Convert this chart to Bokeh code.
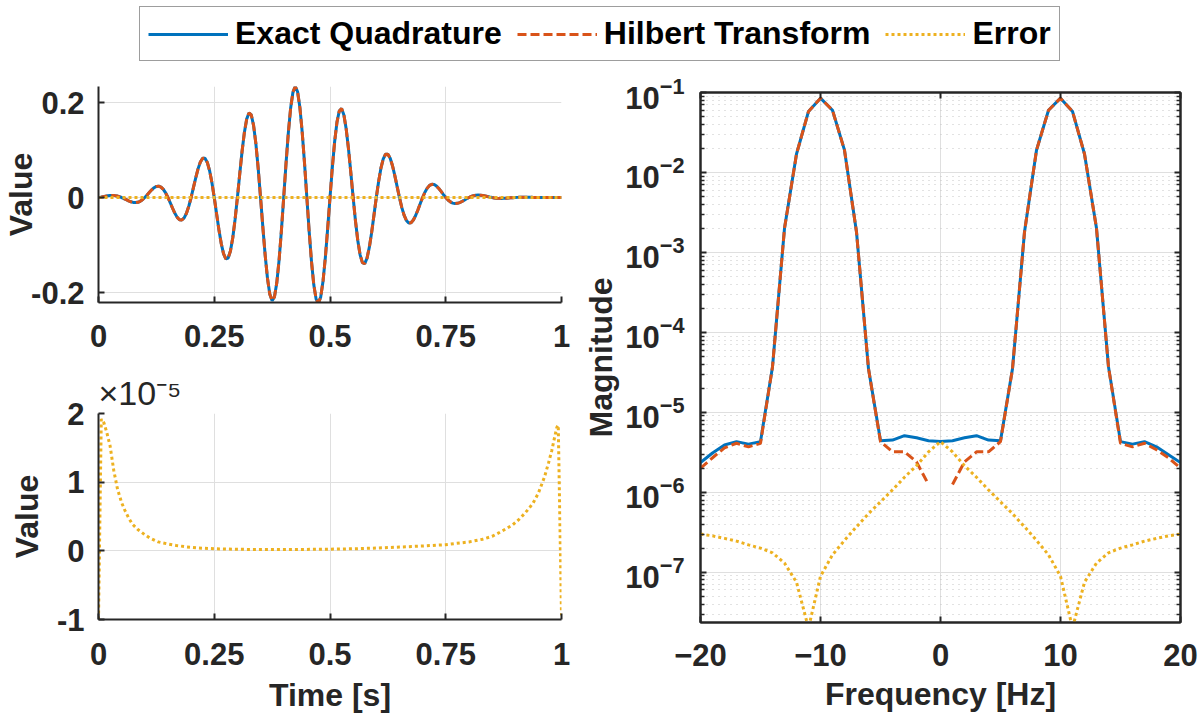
from bokeh.plotting import figure
from bokeh.models import (Range1d, FixedTicker, LinearAxis, LogAxis, Legend,
                          LegendItem, CustomJSTickFormatter)
from bokeh.layouts import column, row
from bokeh.embed import file_html
from bokeh.resources import INLINE

# ---------------- data ----------------
# time-domain samples, every 5 ms
time_s = [round(0.005 * k, 3) for k in range(201)]
exact_quadrature = [
    0, 0.0008, 0.0018, 0.0027, 0.0035, 0.0040, 0.0042, 0.0040, 0.0032, 0.0018,
    0, -0.0022, -0.0046, -0.0070, -0.0090, -0.0103, -0.0107, -0.0100, -0.0079, -0.0045,
    0, 0.0053, 0.0109, 0.0162, 0.0206, 0.0234, 0.0240, 0.0220, 0.0172, 0.0097,
    0, -0.0111, -0.0226, -0.0333, -0.0418, -0.0468, -0.0474, -0.0428, -0.0331, -0.0184,
    0, 0.0207, 0.0415, 0.0603, 0.0747, 0.0827, 0.0827, 0.0739, 0.0563, 0.0310,
    0, -0.0339, -0.0673, -0.0965, -0.1181, -0.1291, -0.1275, -0.1125, -0.0847, -0.0461,
    0, 0.0491, 0.0963, 0.1365, 0.1650, 0.1781, 0.1738, 0.1514, 0.1126, 0.0605,
    0, -0.0629, -0.1218, -0.1705, -0.2036, -0.2171, -0.2092, -0.1801, -0.1322, -0.0702,
    0, 0.0712, 0.1362, 0.1883, 0.2220, 0.2339, 0.2226, 0.1892, 0.1372, 0.0719,
    0, -0.0712, -0.1345, -0.1837, -0.2139, -0.2226, -0.2092, -0.1756, -0.1258, -0.0651,
    0, 0.0629, 0.1174, 0.1583, 0.1821, 0.1872, 0.1738, 0.1441, 0.1019, 0.0521,
    0, -0.0491, -0.0905, -0.1206, -0.1370, -0.1391, -0.1275, -0.1045, -0.0730, -0.0369,
    0, 0.0339, 0.0617, 0.0812, 0.0911, 0.0913, 0.0827, 0.0669, 0.0462, 0.0230,
    0, -0.0207, -0.0371, -0.0483, -0.0535, -0.0530, -0.0474, -0.0379, -0.0258, -0.0127,
    0, 0.0111, 0.0198, 0.0254, 0.0278, 0.0272, 0.0240, 0.0189, 0.0128, 0.0062,
    0, -0.0053, -0.0093, -0.0118, -0.0127, -0.0123, -0.0107, -0.0084, -0.0056, -0.0027,
    0, 0.0022, 0.0039, 0.0048, 0.0052, 0.0049, 0.0042, 0.0033, 0.0022, 0.0010,
    0, -0.0008, -0.0014, -0.0018, -0.0019, -0.0017, -0.0015, -0.0011, -0.0007, -0.0003,
    0, 0.0003, 0.0005, 0.0006, 0.0006, 0.0006, 0.0005, 0.0004, 0.0002, 0.0001,
    0, -0.0001, -0.0001, -0.0002, -0.0002, -0.0002, -0.0001, -0.0001, -0.0001, 0,
    0,
]
# at this scale the Hilbert-transform result is indistinguishable from the exact one
hilbert_quadrature = exact_quadrature

# time-domain error, in units of 1e-5
error_time_s = [0.0, 0.006, 0.012, 0.018, 0.025, 0.033, 0.041, 0.05, 0.057, 0.065,
                0.073, 0.085, 0.097, 0.11, 0.129, 0.15, 0.168, 0.19, 0.216, 0.25,
                0.3, 0.35, 0.4, 0.45, 0.5, 0.55, 0.6, 0.65, 0.7, 0.75,
                0.8, 0.83, 0.85, 0.867, 0.88, 0.895, 0.907, 0.92, 0.93, 0.939,
                0.95, 0.963, 0.972, 0.979, 0.985, 0.99, 0.993, 1.0]
error_e5 = [-1.0, 1.92, 1.86, 1.72, 1.53, 1.17, 0.90, 0.70, 0.59, 0.48,
            0.39, 0.31, 0.25, 0.19, 0.13, 0.10, 0.078, 0.058, 0.042, 0.03,
            0.022, 0.02, 0.02, 0.021, 0.024, 0.03, 0.04, 0.055, 0.07, 0.09,
            0.13, 0.17, 0.21, 0.27, 0.32, 0.38, 0.45, 0.54, 0.62, 0.70,
            0.84, 1.07, 1.28, 1.46, 1.65, 1.8, 1.83, -0.94]
error_scale_label = "\u00d710\u207b\u2075"

# spectrum magnitudes at -20..20 Hz
freq_hz = list(range(-20, 21))
exact_mag = [2.35e-6, 3.1e-6, 3.9e-6, 4.3e-6, 4.0e-6, 4.3e-6, 3.7e-5, 2.0e-3, 1.7e-2, 5.8e-2,
             8.5e-2, 6.0e-2, 1.9e-2, 1.8e-3, 3.5e-5, 4.4e-6, 4.5e-6, 5.1e-6, 4.8e-6, 4.4e-6,
             4.3e-6,
             4.4e-6, 4.8e-6, 5.1e-6, 4.5e-6, 4.4e-6, 3.5e-5, 1.8e-3, 1.9e-2, 6.0e-2, 8.5e-2,
             5.8e-2, 1.7e-2, 2.0e-3, 3.7e-5, 4.3e-6, 4.0e-6, 4.3e-6, 3.7e-6, 2.95e-6, 2.35e-6]
hilbert_mag = [2.0e-6, 2.7e-6, 3.6e-6, 4.1e-6, 3.7e-6, 4.1e-6, 3.7e-5, 2.0e-3, 1.7e-2, 5.8e-2,
               8.5e-2, 6.0e-2, 1.9e-2, 1.8e-3, 3.5e-5, 4.3e-6, 3.2e-6, 3.2e-6, 2.4e-6, 1.25e-6,
               float("nan"),
               1.25e-6, 2.4e-6, 3.2e-6, 3.2e-6, 4.3e-6, 3.5e-5, 1.8e-3, 1.9e-2, 6.0e-2, 8.5e-2,
               5.8e-2, 1.7e-2, 2.0e-3, 3.7e-5, 4.1e-6, 3.7e-6, 4.1e-6, 3.4e-6, 2.7e-6, 2.0e-6]
error_mag = [3.0e-7, 2.85e-7, 2.65e-7, 2.45e-7, 2.2e-7, 2.0e-7, 1.75e-7, 1.3e-7, 7.5e-8, 2.0e-8,
             8.9e-8, 1.65e-7, 2.5e-7, 3.7e-7, 5.4e-7, 7.6e-7, 1.07e-6, 1.54e-6, 2.15e-6, 3.2e-6,
             4.3e-6,
             3.2e-6, 2.15e-6, 1.54e-6, 1.07e-6, 7.6e-7, 5.4e-7, 3.7e-7, 2.5e-7, 1.65e-7, 8.9e-8,
             2.0e-8, 7.5e-8, 1.3e-7, 1.75e-7, 2.0e-7, 2.2e-7, 2.45e-7, 2.65e-7, 2.85e-7, 3.0e-7]

time_ticks = [0, 0.25, 0.5, 0.75, 1]
value_ticks = [-0.2, 0, 0.2]
error_ticks = [-1, 0, 1, 2]
freq_ticks = [-20, -10, 0, 10, 20]
mag_ticks = [1e-7, 1e-6, 1e-5, 1e-4, 1e-3, 1e-2, 1e-1]

series_names = ["Exact Quadrature", "Hilbert Transform", "Error"]

# ---------------- style ----------------
FONT = "Liberation Sans"
AX = "#262626"
GRID = "#dfdfdf"
BLUE, ORANGE, YELLOW = "#0072BD", "#D95319", "#EDB120"
LW = 3
DASH = "9 4"
DOT = "3 3"
TICK_SIZE = "31px"
LABEL_SIZE = "32px"


def style_axis(ax, hide_labels=False):
    ax.axis_line_color = AX
    ax.axis_line_width = 2
    ax.major_tick_line_color = AX
    ax.major_tick_line_width = 2
    ax.major_tick_in = 6
    ax.major_tick_out = 0
    ax.minor_tick_line_color = None
    ax.major_label_text_font = FONT
    ax.major_label_text_font_style = "bold"
    ax.major_label_text_font_size = TICK_SIZE
    ax.major_label_text_color = AX
    ax.axis_label_text_font = FONT
    ax.axis_label_text_font_style = "bold"
    ax.axis_label_text_font_size = LABEL_SIZE
    ax.axis_label_text_color = AX
    if hide_labels:
        ax.major_label_text_font_size = "8px"
        ax.major_label_text_color = None
        ax.major_label_standoff = 0


def base_fig(**kw):
    p = figure(output_backend="svg", toolbar_location=None, **kw)
    p.background_fill_color = "white"
    p.border_fill_color = "white"
    return p


plain_fmt = CustomJSTickFormatter(code="return String(Math.round(tick * 1000) / 1000);")

# ---------------- top-left: time signals ----------------
p1 = base_fig(width=580, height=300, x_range=Range1d(0, 1), y_range=Range1d(-0.221, 0.2337),
              min_border_left=96, min_border_right=19, min_border_top=16, min_border_bottom=68)
p1.outline_line_color = None
for ax in p1.xaxis + p1.yaxis:
    style_axis(ax)
p1.xaxis.ticker = FixedTicker(ticks=time_ticks)
p1.yaxis.ticker = FixedTicker(ticks=value_ticks)
p1.xaxis.formatter = plain_fmt
p1.yaxis.formatter = plain_fmt
p1.xaxis.major_label_standoff = 22
p1.yaxis.major_label_standoff = 14
p1.yaxis.axis_label = "Value"
p1.yaxis.axis_label_standoff = -11
p1.grid.grid_line_color = GRID
p1.line(time_s, exact_quadrature, line_color=BLUE, line_width=LW)
p1.line(time_s, hilbert_quadrature, line_color=ORANGE, line_width=LW, line_dash=DASH)
p1.line(error_time_s, [v * 1e-5 for v in error_e5], line_color=YELLOW, line_width=LW, line_dash=DOT)

# ---------------- bottom-left: time-domain error ----------------
p2 = base_fig(width=580, height=347, x_range=Range1d(0, 1), y_range=Range1d(-1, 2),
              min_border_left=96, min_border_right=19, min_border_top=42, min_border_bottom=98)
p2.outline_line_color = None
for ax in p2.xaxis + p2.yaxis:
    style_axis(ax)
p2.xaxis.ticker = FixedTicker(ticks=time_ticks)
p2.yaxis.ticker = FixedTicker(ticks=error_ticks)
p2.xaxis.formatter = plain_fmt
p2.yaxis.formatter = plain_fmt
p2.xaxis.major_label_standoff = 23
p2.yaxis.major_label_standoff = 14
p2.xaxis.axis_label = "Time [s]"
p2.xaxis.axis_label_standoff = 9
p2.yaxis.axis_label = "Value"
p2.yaxis.axis_label_standoff = 9
p2.grid.grid_line_color = GRID
p2.title.text = error_scale_label
p2.title.align = "left"
p2.title.offset = 0
p2.title.standoff = 3
p2.title.text_font = FONT
p2.title.text_font_style = "normal"
p2.title.text_font_size = "34px"
p2.title.text_color = AX
p2.line(error_time_s, error_e5, line_color=YELLOW, line_width=LW, line_dash=DOT)

# ---------------- right: spectrum ----------------
p3 = base_fig(width=623, height=647, x_range=Range1d(-20, 20), y_range=Range1d(2.35e-8, 0.1),
              y_axis_type="log",
              min_border_left=117, min_border_right=23, min_border_top=22, min_border_bottom=95)
p3.outline_line_color = AX
p3.outline_line_width = 2
minor = [m * 10.0 ** e for e in range(-8, -1) for m in range(2, 10)]
mag_ticker = FixedTicker(ticks=mag_ticks, minor_ticks=minor)
freq_ticker = FixedTicker(ticks=freq_ticks)
for ax in p3.xaxis + p3.yaxis:
    style_axis(ax)
p3.xaxis.ticker = freq_ticker
p3.yaxis.ticker = mag_ticker
p3.yaxis.minor_tick_line_color = AX
p3.yaxis.minor_tick_line_width = 1.5
p3.yaxis.minor_tick_in = 4
p3.yaxis.minor_tick_out = 0
p3.xaxis.major_label_standoff = 21
p3.yaxis.major_label_standoff = 16
p3.xaxis.axis_label = "Frequency [Hz]"
p3.xaxis.axis_label_standoff = 7
p3.yaxis.axis_label = "Magnitude"
p3.yaxis.axis_label_standoff = 3
p3.grid.grid_line_color = GRID
p3.ygrid.minor_grid_line_color = "#c4c4c4"
p3.ygrid.minor_grid_line_dash = "1 5"
p3.ygrid.minor_grid_line_width = 1

top_ax = LinearAxis(ticker=freq_ticker)
right_ax = LogAxis(ticker=mag_ticker)
for ax in (top_ax, right_ax):
    style_axis(ax, hide_labels=True)
right_ax.minor_tick_line_color = AX
right_ax.minor_tick_line_width = 1.5
right_ax.minor_tick_in = 4
right_ax.minor_tick_out = 0
p3.add_layout(top_ax, "above")
p3.add_layout(right_ax, "right")

p3.line(freq_hz, exact_mag, line_color=BLUE, line_width=LW)
p3.line(freq_hz, hilbert_mag, line_color=ORANGE, line_width=LW, line_dash=DASH)
p3.line(freq_hz, error_mag, line_color=YELLOW, line_width=LW, line_dash=DOT)

# ---------------- legend strip ----------------
pl = base_fig(width=1203, height=70, x_range=Range1d(0, 1), y_range=Range1d(0, 1),
              x_axis_location=None, y_axis_location=None, min_border=0)
pl.outline_line_color = None
pl.grid.visible = False
# legend-only renderers (their points lie outside the visible range)
r_a = pl.line([5, 6], [5, 6], line_color=BLUE, line_width=LW)
r_b = pl.line([5, 6], [5, 6], line_color=ORANGE, line_width=LW, line_dash=DASH)
r_c = pl.line([5, 6], [5, 6], line_color=YELLOW, line_width=LW, line_dash=DOT)
legend = Legend(items=[LegendItem(label=series_names[0], renderers=[r_a]),
                       LegendItem(label=series_names[1], renderers=[r_b]),
                       LegendItem(label=series_names[2], renderers=[r_c])],
                orientation="horizontal", location=(139, 9))
legend.label_text_font = FONT
legend.label_text_font_style = "bold"
legend.label_text_font_size = LABEL_SIZE
legend.label_text_color = "black"
legend.glyph_width = 80
legend.glyph_height = 20
legend.label_standoff = 7
legend.spacing = 15
legend.padding = 8
legend.margin = 0
legend.border_line_color = "#3c3c3c"
legend.border_line_width = 1.5
legend.background_fill_color = "white"
pl.add_layout(legend)

layout = column(pl, row(column(p1, p2), p3))

open("out.html", "w").write(file_html(layout, INLINE))
